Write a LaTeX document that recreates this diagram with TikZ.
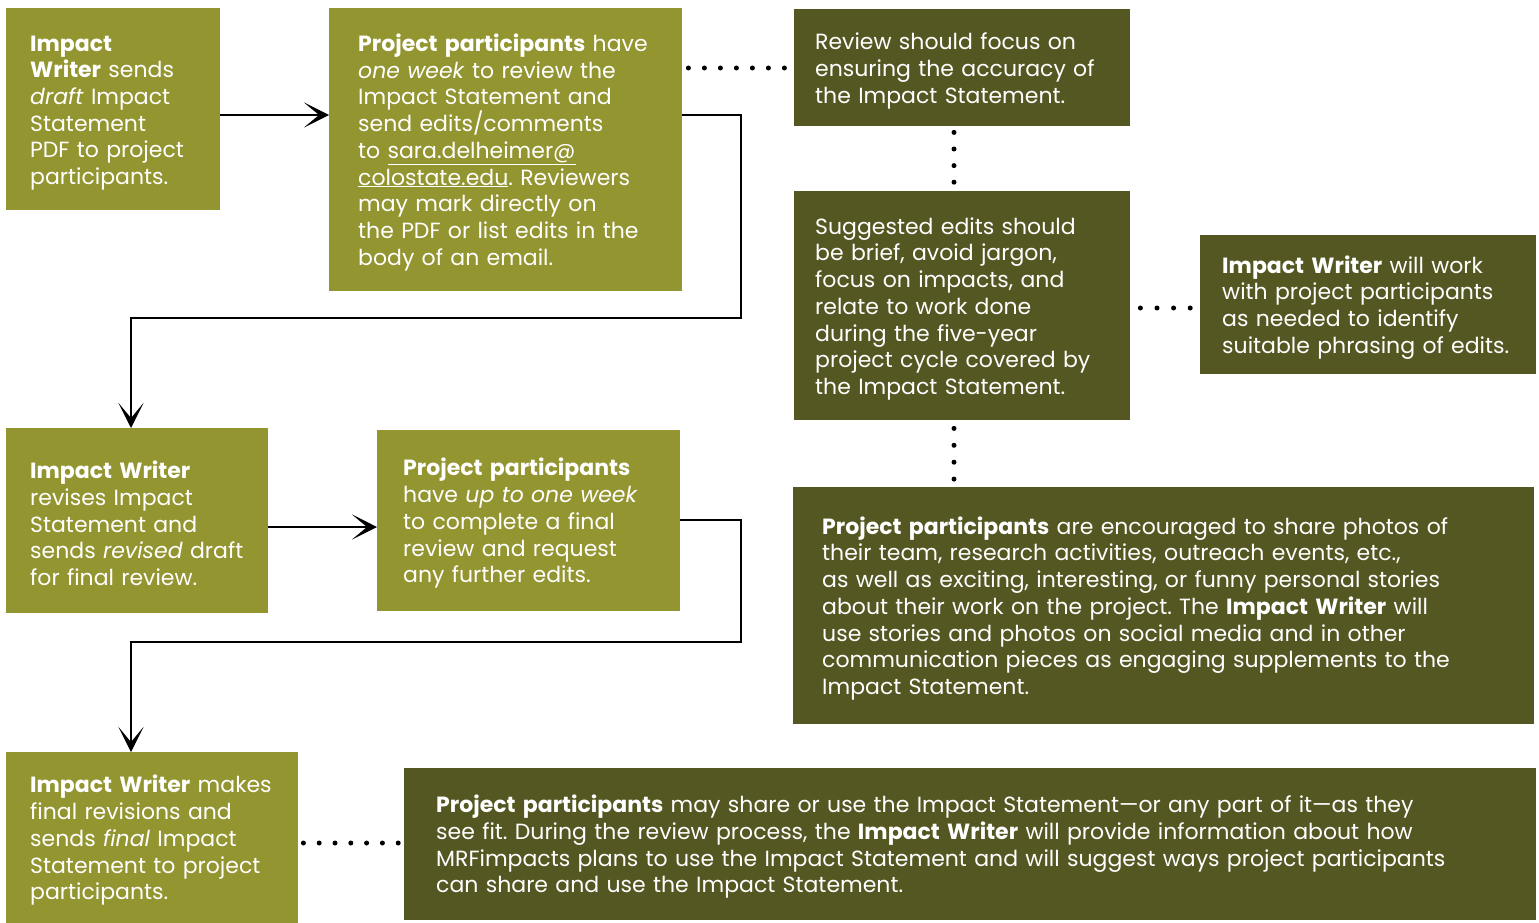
\documentclass[tikz,border=0pt]{standalone}
\usepackage{fontspec}
\setmainfont{Poppins}
\usetikzlibrary{arrows.meta,calc}
\definecolor{olivelight}{RGB}{147,149,48}
\definecolor{olivedark}{RGB}{84,87,34}
\newcommand\tstrut{\rule{0pt}{23pt}}
\frenchspacing
\begin{document}
\begin{tikzpicture}[x=1pt,y=-1pt,
  box/.style={anchor=north west, text=white, align=left, inner ysep=0pt,
    font=\fontsize{22}{26.7}\selectfont},
  lightbox/.style={box, fill=olivelight},
  darkbox/.style={box, fill=olivedark},
  flow/.style={line width=2.6pt, -{Stealth[scale=1.7, width'=0pt 1, inset'=0pt 0.6]}},
  dots/.style={line width=5pt, line cap=round, dash pattern=on 0pt off #1}]
\useasboundingbox (0,0) rectangle (1539,923);

% light boxes
\node[lightbox, minimum width=214, minimum height=202, inner xsep=24, text width=166] (A) at (6,8)
 {\tstrut\textbf{Impact}\\\textbf{Writer} sends\\\textit{draft} Impact\\Statement\\PDF to project\\participants.};
\node[lightbox, minimum width=353, minimum height=283, inner xsep=29, text width=295] (B) at (329,8)
 {\tstrut\textbf{Project participants} have\\\textit{one week} to review the\\Impact Statement and\\send edits/comments\\to \underline{sara.delheimer@}\\\underline{colostate.edu}. Reviewers\\may mark directly on\\the PDF or list edits in the\\body of an email.};
\node[lightbox, minimum width=262, minimum height=185, inner xsep=24, text width=214] (G) at (6,428)
 {\tstrut\textbf{Impact Writer}\\revises Impact\\Statement and\\sends \textit{revised} draft\\for final review.};
\node[lightbox, minimum width=303, minimum height=181, inner xsep=26, text width=251] (H) at (377,430)
 {\tstrut\textbf{Project participants}\\have \textit{up to one week}\\to complete a final\\review and request\\any further edits.};
\node[lightbox, minimum width=292, minimum height=171, inner xsep=24, text width=244] (I) at (6,752)
 {\tstrut\textbf{Impact Writer} makes\\final revisions and\\sends \textit{final} Impact\\Statement to project\\participants.};

% dark boxes
\node[darkbox, minimum width=336, minimum height=117, inner xsep=21, text width=294] (C) at (794,9)
 {\tstrut Review should focus on\\ensuring the accuracy of\\the Impact Statement.};
\node[darkbox, minimum width=336, minimum height=229, inner xsep=21, text width=294] (D) at (794,191)
 {\tstrut Suggested edits should\\be brief, avoid jargon,\\focus on impacts, and\\relate to work done\\during the five-year\\project cycle covered by\\the Impact Statement.};
\node[darkbox, minimum width=336, minimum height=139, inner xsep=22, text width=292] (E) at (1200,235)
 {\tstrut\textbf{Impact Writer} will work\\with project participants\\as needed to identify\\suitable phrasing of edits.};
\node[darkbox, minimum width=741, minimum height=237, inner xsep=29, text width=683] (F) at (793,487)
 {\tstrut\textbf{Project participants} are encouraged to share photos of\\their team, research activities, outreach events, etc.,\\as well as exciting, interesting, or funny personal stories\\about their work on the project. The \textbf{Impact Writer} will\\use stories and photos on social media and in other\\communication pieces as engaging supplements to the\\Impact Statement.};
\node[darkbox, minimum width=1132, minimum height=152, inner xsep=32, text width=1068] (J) at (404,768)
 {\tstrut\textbf{Project participants} may share or use the Impact Statement---or any part of it---as they\\see fit. During the review process, the \textbf{Impact Writer} will provide information about how\\MRFimpacts plans to use the Impact Statement and will suggest ways project participants\\can share and use the Impact Statement.};

% flow connectors
\draw[flow] (A.east |- 0,115) -- (B.west |- 0,115);
\draw[flow] (B.east |- 0,115) -| (741,318) -| (G.north -| 131,0);
\draw[flow] (G.east |- 0,527) -- (H.west |- 0,527);
\draw[flow] (H.east |- 0,520) -| (741,642) -| (I.north -| 131,0);

% dotted connectors
\draw[dots=16pt] ($(B.east |- 0,68)+(6,0)$) -- ($(C.west |- 0,68)+(-9.5,0)$);
\draw[dots=16.6pt] ($(C.south -| 954,0)+(0,6)$) -- ($(D.north -| 954,0)+(0,-7.5)$);
\draw[dots=16.6pt] ($(D.east |- 0,308)+(10,0)$) -- ($(E.west |- 0,308)+(-9.5,0)$);
\draw[dots=16.9pt] ($(D.south -| 954,0)+(0,8)$) -- ($(F.north -| 954,0)+(0,-6.5)$);
\draw[dots=15.8pt] ($(I.east |- 0,843)+(5,0)$) -- ($(J.west |- 0,843)+(-5.5,0)$);
\end{tikzpicture}
\end{document}
